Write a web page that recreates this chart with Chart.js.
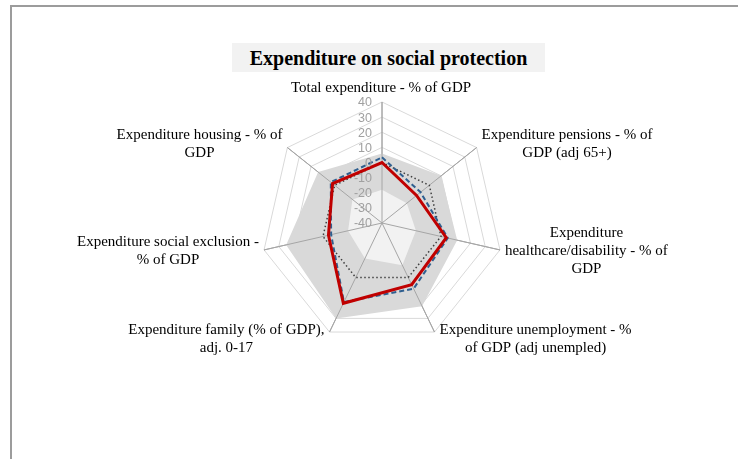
<!DOCTYPE html>
<html>
<head>
<meta charset="utf-8">
<script src="https://cdn.jsdelivr.net/npm/chart.js@4"></script>
<style>
  html, body { margin: 0; padding: 0; background: #fff; overflow: hidden; }
  body { width: 738px; height: 459px; position: relative; }
  #frame { position: absolute; left: 10px; top: 5px; width: 780px; height: 500px; border: 2px solid #9c9c9c; box-sizing: border-box; }
  #title { position: absolute; left: 232px; top: 43px; width: 313px; height: 29px; background: #f2f2f2;
           font: bold 20px "Liberation Serif", serif; color: #000; text-align: center; line-height: 30px; }
  #wrap { position: absolute; left: 0; top: 0; width: 738px; height: 459px; }
</style>
</head>
<body>
<div id="frame"></div>
<div id="wrap"><canvas id="radarChart"></canvas></div>
<div id="title">Expenditure on social protection</div>
<script>
const categories = [
  ["Total expenditure - % of GDP"],
  ["Expenditure pensions - % of", "GDP (adj 65+)"],
  ["Expenditure", "healthcare/disability - % of", "GDP"],
  ["Expenditure unemployment - %", "of GDP (adj unempled)"],
  ["Expenditure family (% of GDP),", "adj. 0-17"],
  ["Expenditure social exclusion -", "% of GDP"],
  ["Expenditure housing - % of", "GDP"]
];
const countryValues = [0, -10.8, 3.6, 5.2, 18.9, -3.7, 1.8];
const compareValues = [3.4, -7.4, 4.6, 8.2, 18, -5.5, 3.3];
const averageValues = [0, 0, 0, 0, 0, 0, 0];
const maxValues = [6, 10, 11, 21, 30, 25, 14];
const minValues = [-18, -19, -17, -9, -14, -17, -15];
const tickValues = [-40, -30, -20, -10, 0, 10, 20, 30, 40];

// spokes go over the grey band but under the lines
const spokesPlugin = {
  id: "spokes",
  afterDatasetDraw(chart, args) {
    if (args.index !== 3) return;
    const scale = chart.scales.r;
    const ctx = chart.ctx;
    ctx.save();
    ctx.strokeStyle = "#a6a6a6";
    ctx.lineWidth = 1;
    for (let i = 0; i < categories.length; i++) {
      const p = scale.getPointPosition(i, scale.drawingArea);
      ctx.beginPath();
      ctx.moveTo(scale.xCenter, scale.yCenter);
      ctx.lineTo(p.x, p.y);
      ctx.stroke();
    }
    ctx.restore();
  }
};

// tick labels left of the top spoke, point labels with centred lines
const labelsPlugin = {
  id: "labels",
  afterDatasetsDraw(chart) {
    const scale = chart.scales.r;
    const ctx = chart.ctx;
    ctx.save();
    ctx.font = '12.5px "Liberation Sans", sans-serif';
    ctx.fillStyle = "#a0a0a0";
    ctx.textAlign = "right";
    ctx.textBaseline = "middle";
    scale.ticks.forEach(t => {
      const y = scale.yCenter - scale.getDistanceFromCenterForValue(t.value);
      ctx.fillText(String(t.value), scale.xCenter - 10, y + 1);
    });

    ctx.font = '15px "Liberation Serif", serif';
    ctx.fillStyle = "#000";
    ctx.textAlign = "center";
    const lh = 18;
    const gap = 5;
    categories.forEach((lines, i) => {
      const p = scale.getPointPosition(i, scale.drawingArea);
      const angle = scale.getIndexAngle(i);
      const s = Math.sin(angle), c = Math.cos(angle);
      const w = Math.max(...lines.map(l => ctx.measureText(l).width));
      const h = lines.length * lh;
      let cx, top;
      if (Math.abs(s) < 0.01) {
        cx = p.x - 1;
        top = p.y - gap - h;
      } else {
        cx = s > 0 ? p.x + gap + w / 2 : p.x - gap - w / 2;
        if (c > 0.5) top = p.y - 3 - h / 2;
        else if (c > -0.5) top = p.y + 1 - h / 2;
        else top = p.y - 11;
      }
      lines.forEach((l, j) => ctx.fillText(l, cx, top + lh * j + lh / 2));
    });
    ctx.restore();
  }
};

const ctx = document.getElementById("radarChart").getContext("2d");

new Chart(ctx, {
  type: "radar",
  data: {
    labels: categories,
    datasets: [
      {
        label: "Country",
        data: countryValues,
        borderColor: "#c00000",
        borderWidth: 3,
        fill: false,
        pointRadius: 0
      },
      {
        label: "Comparison",
        data: compareValues,
        borderColor: "#2f5f8f",
        borderWidth: 2,
        borderDash: [5, 3],
        fill: false,
        pointRadius: 0
      },
      {
        label: "Average",
        data: averageValues,
        borderColor: "#404040",
        borderWidth: 1.5,
        borderDash: [1.5, 2.5],
        fill: false,
        pointRadius: 0
      },
      {
        label: "Min",
        data: minValues,
        borderWidth: 0,
        borderColor: "rgba(0,0,0,0)",
        backgroundColor: "#f2f2f2",
        fill: "start",
        pointRadius: 0
      },
      {
        label: "Max",
        data: maxValues,
        borderWidth: 0,
        borderColor: "rgba(0,0,0,0)",
        backgroundColor: "#d9d9d9",
        fill: "start",
        pointRadius: 0
      }
    ]
  },
  options: {
    responsive: true,
    maintainAspectRatio: false,
    animation: false,
    layout: {
      padding: { left: 261, right: 235, top: 102, bottom: 115 }
    },
    plugins: {
      legend: { display: false },
      tooltip: { enabled: false },
      title: { display: false }
    },
    elements: {
      line: { tension: 0 }
    },
    scales: {
      r: {
        min: tickValues[0],
        max: tickValues[tickValues.length - 1],
        ticks: {
          stepSize: 10,
          display: false
        },
        grid: { color: "#d9d9d9", lineWidth: 1 },
        angleLines: { color: "#a6a6a6" },
        pointLabels: { display: false }
      }
    }
  },
  plugins: [spokesPlugin, labelsPlugin]
});
</script>
</body>
</html>
